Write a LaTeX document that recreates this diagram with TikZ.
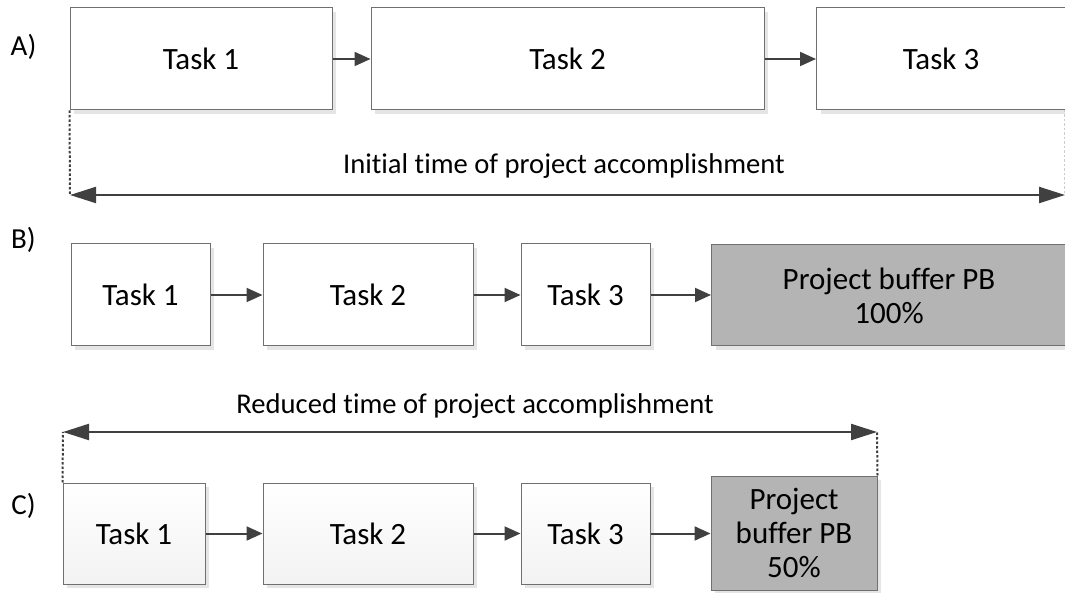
\documentclass[tikz,border=0pt]{standalone}
\usepackage{fontspec}
\setmainfont{Carlito}[Ligatures=NoCommon]
\usetikzlibrary{arrows.meta,shadows}

\definecolor{edgegray}{RGB}{112,112,112}
\definecolor{linkgray}{RGB}{64,64,64}
\definecolor{buffergray}{RGB}{180,180,180}

\tikzset{
  boxfont/.style={font=\fontsize{31}{34}\selectfont},
  longfont/.style={font=\fontsize{28.6}{34}\selectfont},
  taskbox/.style={boxfont, draw=edgegray, line width=1pt, fill=white, inner sep=0pt,
    align=center, drop shadow={shadow xshift=4pt, shadow yshift=-4pt, fill=black!10, opacity=1}},
  fadedbox/.style={taskbox, top color=white, middle color=white, bottom color=black!5},
  bufferbox/.style={taskbox, fill=buffergray},
  link/.style={draw=linkgray, line width=2pt, -{Triangle[length=16pt,width=14pt]}},
  span/.style={draw=linkgray, line width=2.2pt, {Triangle[length=26pt,width=16pt]}-{Triangle[length=26pt,width=16pt]}},
  marker/.style={draw=linkgray, line width=2pt, dash pattern=on 2.5pt off 2pt},
  tag/.style={font=\fontsize{29}{34}\selectfont, inner sep=0pt}
}

\begin{document}
\begin{tikzpicture}[x=1pt, y=-1pt]
\useasboundingbox (0,0) rectangle (1065,593);
\clip (0,0) rectangle (1065,593);

% ---- row A: original schedule
\node[tag] (la) at (23.5,47) {A)};
\node[taskbox, minimum width=262pt, minimum height=102pt] (a1) at (201,59) {Task 1};
\node[taskbox, minimum width=393pt, minimum height=102pt] (a2) at (567.5,59) {Task 2};
\node[taskbox, minimum width=270pt, minimum height=102pt, anchor=west] (a3) at (816,59) {};
\node[boxfont] (a3t) at (941,59) {Task 3};
\draw[link] (a1.east) -- (a2.west);
\draw[link] (a2.east) -- (a3.west);

\coordinate (as) at (70,195);
\coordinate (ae) at (1065,195);
\draw[marker] (a1.south west) -- (as);
\draw[marker, draw=black!20, line width=1pt] (1064,110) -- (1064,195);
\draw[span] (as) -- (ae);
\node[longfont] (atext) at (564,166) {Initial time of project accomplishment};

% ---- row B: tasks followed by the full project buffer
\node[tag] (lb) at (23.5,240) {B)};
\node[taskbox, minimum width=139pt, minimum height=102pt] (b1) at (140.5,295) {Task 1};
\node[taskbox, minimum width=210pt, minimum height=102pt] (b2) at (368,295) {Task 2};
\node[taskbox, minimum width=129pt, minimum height=102pt] (b3) at (585.5,295) {Task 3};
\node[bufferbox, minimum width=355pt, minimum height=101pt, anchor=west] (b4) at (711,295.5) {Project buffer PB\\100\%};
\draw[link] (b1.east) -- (b2.west);
\draw[link] (b2.east) -- (b3.west);
\draw[link] (b3.east) -- (b3.east -| b4.west);

% ---- row C: tasks followed by the halved project buffer
\node[longfont] (ctext) at (475,406) {Reduced time of project accomplishment};
\node[tag] (lc) at (23.5,506) {C)};
\node[fadedbox, minimum width=142pt, minimum height=101pt] (c1) at (134,533.5) {Task 1};
\node[fadedbox, minimum width=210pt, minimum height=101pt] (c2) at (368,533.5) {Task 2};
\node[fadedbox, minimum width=129pt, minimum height=101pt] (c3) at (585.5,533.5) {Task 3};
\node[bufferbox, minimum width=166pt, minimum height=114pt] (c4) at (794,533) {Project\\buffer PB\\50\%};
\draw[link] (c1.east) -- (c2.west);
\draw[link] (c2.east) -- (c3.west);
\draw[link] (c3.east) -- (c3.east -| c4.west);

\coordinate (cs) at (63,432);
\coordinate (ce) at (877,432);
\draw[marker] (c1.north west) -- (cs);
\draw[marker] (c4.north east) -- (ce);
\draw[span] (cs) -- (ce);
\end{tikzpicture}
\end{document}
